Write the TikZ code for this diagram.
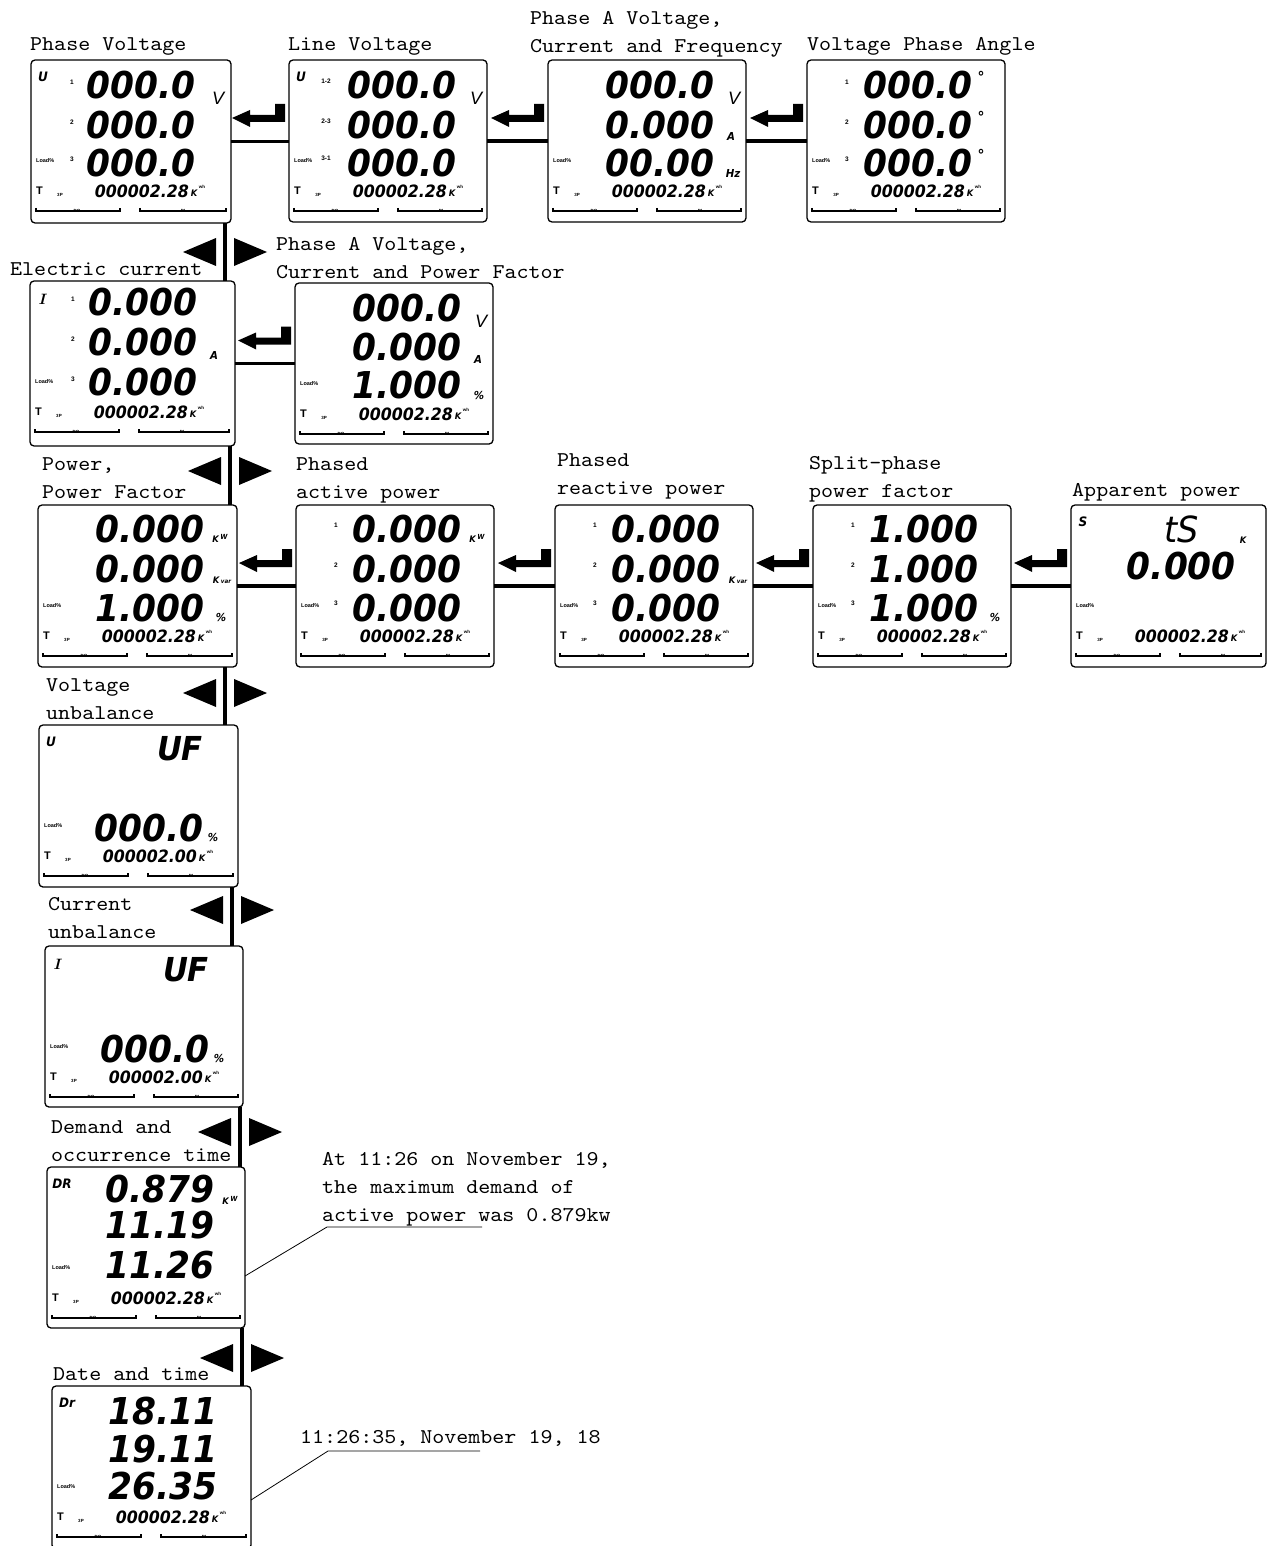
\documentclass[tikz,border=0pt]{standalone}
\usepackage{fontspec}
\newfontfamily\labfont[FakeStretch=1.09]{lmmono10-regular.otf}
\newfontfamily\lcdfont[FakeStretch=0.93]{DejaVu Sans}
\newfontfamily\sansb{Liberation Sans}
\tikzset{
  lcdpanel/.style={draw, line width=1.3pt, rounded corners=4pt, fill=white, inner sep=0pt, outer sep=0pt, anchor=north west},
  bigdig/.style={inner sep=0pt, anchor=east, font=\lcdfont\bfseries\itshape\fontsize{37}{37}\selectfont},
  kwhdig/.style={inner sep=0pt, anchor=east, font=\lcdfont\bfseries\itshape\fontsize{17}{17}\selectfont},
  tinytxt/.style={inner sep=0pt, font=\sansb\bfseries\fontsize{5.5}{6}\selectfont},
  micro/.style={inner sep=0pt, font=\sansb\bfseries\fontsize{4.5}{5}\selectfont},
  rnum/.style={inner sep=0pt, font=\sansb\bfseries\fontsize{6.5}{7}\selectfont},
  ttxt/.style={inner sep=0pt, anchor=west, font=\sansb\bfseries\fontsize{11}{11}\selectfont},
  sidelab/.style={inner sep=0pt, font=\lcdfont\bfseries\itshape\fontsize{13}{13}\selectfont},
  unitv/.style={inner sep=0pt, font=\sansb\itshape\fontsize{18}{18}\selectfont},
  unitsm/.style={inner sep=0pt, font=\lcdfont\bfseries\itshape\fontsize{11}{11}\selectfont},
  degsym/.style={inner sep=0pt, font=\lcdfont\bfseries\fontsize{15}{15}\selectfont},
  unitk/.style={inner sep=0pt, font=\lcdfont\bfseries\itshape\fontsize{9}{9}\selectfont},
  lcdbar/.style={line width=1.1pt},
  lbl/.style={inner sep=0pt, anchor=base west, align=left, font=\labfont\fontsize{21}{28}\selectfont},
  hconn/.style={line width=3.6pt},
  vconn/.style={line width=4.6pt},
  leader/.style={line width=0.8pt}
}
\newcommand\lcdbox[7]{% name, x, y, w, h, kwh value, right bar end
  \node[lcdpanel, minimum width=#4pt, minimum height=#5pt] (#1) at (#2,#3) {};
  \begin{scope}[shift={(#2,#3)}]
    \node[tinytxt, anchor=west] (#1-ld) at (5,101) {Load\%};
    \node[ttxt] (#1-t) at (5,131) {T};
    \node[micro] (#1-3p) at (29,135) {3P};
    \node[kwhdig] (#1-kwh) at (158,131) {#6};
    \node[unitk] (#1-k) at (163,133) {K};
    \node[micro] (#1-wh) at (171,127) {wh};
    \draw[lcdbar] (5,148) -- (5,151) -- (89,151) -- (89,148);
    \node[micro] (#1-do) at (46,151) {DO};
    \draw[lcdbar] (109,148) -- (109,151) -- (#7,151) -- (#7,148);
    \node[micro] (#1-di) at (152,151) {DI};
  \end{scope}}
\newcommand\retarrow[1]{\fill[shift={(#1)}] (-57,-23) -- (-39,-31) -- (-39,-26) -- (-14,-26) -- (-14,-37) -- (-4,-37) -- (-4,-19) -- (-39,-19) -- (-39,-14) -- cycle;}
\newcommand\tripair[2]{%
  \fill (#1-42,#2) -- (#1-9,#2-14) -- (#1-9,#2+14) -- cycle;
  \fill (#1+9,#2-14) -- (#1+9,#2+14) -- (#1+42,#2) -- cycle;}
\begin{document}
\begin{tikzpicture}[x=1pt,y=-1pt]
\useasboundingbox (0,0) rectangle (1267,1546);
\fill[white] (0,0) rectangle (1267,1546);

% ---------- panels ----------
\lcdbox{p1}{31}{60}{200}{163}{000002.28}{195}
\begin{scope}[shift={(31,60)}]
  \node[sidelab] (p1-s) at (12,17) {U};
  \node[rnum] (p1-n1) at (41,22) {1};
  \node[rnum] (p1-n2) at (41,62) {2};
  \node[rnum] (p1-n3) at (41,99) {3};
  \node[bigdig] (p1-r1) at (165,25) {000.0};
  \node[bigdig] (p1-r2) at (165,65) {000.0};
  \node[bigdig] (p1-r3) at (165,103) {000.0};
  \node[unitv] (p1-u) at (187,38) {V};
\end{scope}

\lcdbox{p2}{289}{60}{198}{162}{000002.28}{193}
\begin{scope}[shift={(289,60)}]
  \node[sidelab] (p2-s) at (12,17) {U};
  \node[rnum] (p2-n1) at (37,21) {1-2};
  \node[rnum] (p2-n2) at (37,61) {2-3};
  \node[rnum] (p2-n3) at (37,98) {3-1};
  \node[bigdig] (p2-r1) at (168,25) {000.0};
  \node[bigdig] (p2-r2) at (168,65) {000.0};
  \node[bigdig] (p2-r3) at (168,103) {000.0};
  \node[unitv] (p2-u) at (187,38) {V};
\end{scope}

\lcdbox{p3}{548}{60}{198}{162}{000002.28}{193}
\begin{scope}[shift={(548,60)}]
  \node[bigdig] (p3-r1) at (167,25) {000.0};
  \node[bigdig] (p3-r2) at (167,65) {0.000};
  \node[bigdig] (p3-r3) at (167,103) {00.00};
  \node[unitv] (p3-u1) at (186,38) {V};
  \node[unitsm] (p3-u2) at (183,76) {A};
  \node[unitsm] (p3-u3) at (185,113) {Hz};
\end{scope}

\lcdbox{p4}{807}{60}{198}{162}{000002.28}{193}
\begin{scope}[shift={(807,60)}]
  \node[rnum] (p4-n1) at (40,22) {1};
  \node[rnum] (p4-n2) at (40,62) {2};
  \node[rnum] (p4-n3) at (40,99) {3};
  \node[bigdig] (p4-r1) at (166,25) {000.0};
  \node[bigdig] (p4-r2) at (166,65) {000.0};
  \node[bigdig] (p4-r3) at (166,103) {000.0};
  \node[degsym] (p4-d1) at (174,17) {°};
  \node[degsym] (p4-d2) at (174,57) {°};
  \node[degsym] (p4-d3) at (174,95) {°};
\end{scope}

\lcdbox{p5}{30}{281}{205}{165}{000002.28}{199}
\begin{scope}[shift={(30,281)}]
  \node[inner sep=0pt, font=\rmfamily\bfseries\itshape\fontsize{15}{15}\selectfont] (p5-s) at (12,18) {I};
  \node[rnum] (p5-n1) at (43,18) {1};
  \node[rnum] (p5-n2) at (43,58) {2};
  \node[rnum] (p5-n3) at (43,98) {3};
  \node[bigdig] (p5-r1) at (168,21) {0.000};
  \node[bigdig] (p5-r2) at (168,61) {0.000};
  \node[bigdig] (p5-r3) at (168,101) {0.000};
  \node[unitsm] (p5-u) at (184,74) {A};
\end{scope}

\lcdbox{p6}{295}{283}{198}{161}{000002.28}{193}
\begin{scope}[shift={(295,283)}]
  \node[bigdig] (p6-r1) at (167,25) {000.0};
  \node[bigdig] (p6-r2) at (167,64) {0.000};
  \node[bigdig] (p6-r3) at (167,102) {1.000};
  \node[unitv] (p6-u1) at (186,38) {V};
  \node[unitsm] (p6-u2) at (183,76) {A};
  \node[unitsm] (p6-u3) at (184,112) {\%};
\end{scope}

\lcdbox{p7}{38}{505}{199}{162}{000002.28}{194}
\begin{scope}[shift={(38,505)}]
  \node[bigdig] (p7-r1) at (167,24) {0.000};
  \node[bigdig] (p7-r2) at (167,64) {0.000};
  \node[bigdig] (p7-r3) at (167,103) {1.000};
  \node[unitk] (p7-u1) at (182,33) {K\,\raisebox{3pt}{\fontsize{7}{7}\selectfont W}};
  \node[unitk] (p7-u2) at (184,75) {K\,{\fontsize{6}{6}\selectfont var}};
  \node[unitsm] (p7-u3) at (183,112) {\%};
\end{scope}

\lcdbox{p8}{296}{505}{198}{162}{000002.28}{193}
\begin{scope}[shift={(296,505)}]
  \node[rnum] (p8-n1) at (40,20) {1};
  \node[rnum] (p8-n2) at (40,60) {2};
  \node[rnum] (p8-n3) at (40,98) {3};
  \node[bigdig] (p8-r1) at (166,24) {0.000};
  \node[bigdig] (p8-r2) at (166,64) {0.000};
  \node[bigdig] (p8-r3) at (166,103) {0.000};
  \node[unitk] (p8-u1) at (181,33) {K\,\raisebox{3pt}{\fontsize{7}{7}\selectfont W}};
\end{scope}

\lcdbox{p9}{555}{505}{198}{162}{000002.28}{193}
\begin{scope}[shift={(555,505)}]
  \node[rnum] (p9-n1) at (40,20) {1};
  \node[rnum] (p9-n2) at (40,60) {2};
  \node[rnum] (p9-n3) at (40,98) {3};
  \node[bigdig] (p9-r1) at (166,24) {0.000};
  \node[bigdig] (p9-r2) at (166,64) {0.000};
  \node[bigdig] (p9-r3) at (166,103) {0.000};
  \node[unitk] (p9-u1) at (183,75) {K\,{\fontsize{6}{6}\selectfont var}};
\end{scope}

\lcdbox{p10}{813}{505}{198}{162}{000002.28}{193}
\begin{scope}[shift={(813,505)}]
  \node[rnum] (p10-n1) at (40,20) {1};
  \node[rnum] (p10-n2) at (40,60) {2};
  \node[rnum] (p10-n3) at (40,98) {3};
  \node[bigdig] (p10-r1) at (166,24) {1.000};
  \node[bigdig] (p10-r2) at (166,64) {1.000};
  \node[bigdig] (p10-r3) at (166,103) {1.000};
  \node[unitsm] (p10-u3) at (182,112) {\%};
\end{scope}

\lcdbox{p11}{1071}{505}{195}{162}{000002.28}{190}
\begin{scope}[shift={(1071,505)}]
  \node[sidelab] (p11-s) at (12,17) {S};
  \node[inner sep=0pt, font=\lcdfont\itshape\fontsize{36}{36}\selectfont] (p11-ts) at (111,24) {tS};
  \node[unitk] (p11-k) at (172,35) {K};
  \node[bigdig] (p11-r2) at (165,61) {0.000};
\end{scope}

\lcdbox{p12}{39}{725}{199}{162}{000002.00}{194}
\begin{scope}[shift={(39,725)}]
  \node[sidelab] (p12-s) at (12,17) {U};
  \node[inner sep=0pt, font=\lcdfont\bfseries\itshape\fontsize{33}{33}\selectfont] (p12-uf) at (141,24) {UF};
  \node[bigdig] (p12-r3) at (165,103) {000.0};
  \node[unitsm] (p12-u) at (174,112) {\%};
\end{scope}

\lcdbox{p13}{45}{946}{198}{161}{000002.00}{193}
\begin{scope}[shift={(45,946)}]
  \node[inner sep=0pt, font=\rmfamily\bfseries\itshape\fontsize{15}{15}\selectfont] (p13-s) at (12,18) {I};
  \node[inner sep=0pt, font=\lcdfont\bfseries\itshape\fontsize{33}{33}\selectfont] (p13-uf) at (141,24) {UF};
  \node[bigdig] (p13-r3) at (165,103) {000.0};
  \node[unitsm] (p13-u) at (174,112) {\%};
\end{scope}

\lcdbox{p14}{47}{1167}{198}{161}{000002.28}{193}
\begin{scope}[shift={(47,1167)}]
  \node[sidelab] (p14-s) at (15,17) {DR};
  \node[bigdig] (p14-r1) at (168,22) {0.879};
  \node[bigdig] (p14-r2) at (168,58) {11.19};
  \node[bigdig] (p14-r3) at (168,98) {11.26};
  \node[unitk] (p14-u1) at (183,33) {K\,\raisebox{3pt}{\fontsize{7}{7}\selectfont W}};
\end{scope}

\lcdbox{p15}{52}{1386}{199}{163}{000002.28}{194}
\begin{scope}[shift={(52,1386)}]
  \node[sidelab] (p15-s) at (15,17) {Dr};
  \node[bigdig] (p15-r1) at (166,25) {18.11};
  \node[bigdig] (p15-r2) at (166,63) {19.11};
  \node[bigdig] (p15-r3) at (166,100) {26.35};
\end{scope}

% ---------- horizontal connectors ----------
\draw[hconn] (p1.east) -- (p1.east -| p2.west);
\draw[hconn] (p2.east) -- (p2.east -| p3.west);
\draw[hconn] (p3.east) -- (p3.east -| p4.west);
\draw[hconn] (p5.east) -- (p5.east -| p6.west);
\draw[hconn] (p7.east) -- (p7.east -| p8.west);
\draw[hconn] (p8.east) -- (p8.east -| p9.west);
\draw[hconn] (p9.east) -- (p9.east -| p10.west);
\draw[hconn] (p10.east) -- (p10.east -| p11.west);
\retarrow{p2.west}
\retarrow{p3.west}
\retarrow{p4.west}
\retarrow{p6.west}
\retarrow{p8.west}
\retarrow{p9.west}
\retarrow{p10.west}
\retarrow{p11.west}

% ---------- vertical connectors ----------
\draw[vconn] (p1.south -| 225,0) -- (p5.north -| 225,0);
\draw[vconn] (p5.south -| 230,0) -- (p7.north -| 230,0);
\draw[vconn] (p7.south -| 225,0) -- (p12.north -| 225,0);
\draw[vconn] (p12.south -| 232,0) -- (p13.north -| 232,0);
\draw[vconn] (p13.south -| 240,0) -- (p14.north -| 240,0);
\draw[vconn] (p14.south -| 242,0) -- (p15.north -| 242,0);
\tripair{225}{252}
\tripair{230}{471}
\tripair{225}{693}
\tripair{232}{910}
\tripair{240}{1132}
\tripair{242}{1358}

% ---------- labels (base = baseline of last line) ----------
\node[lbl] (l1) at (30,51) {Phase Voltage};
\node[lbl] (l2) at (288,51) {Line Voltage};
\node[lbl] (l3) at (530,53) {Phase A Voltage,\\Current and Frequency};
\node[lbl] (l4) at (807,51) {Voltage Phase Angle};
\node[lbl] (l5) at (10,276) {Electric current};
\node[lbl] (l6) at (276,278) {Phase A Voltage,\\Current and Power Factor};
\node[lbl] (l7) at (42,498) {Power,\\Power Factor};
\node[lbl] (l8) at (296,498) {Phased\\active power};
\node[lbl] (l9) at (557,494) {Phased\\reactive power};
\node[lbl] (l10) at (809,497) {Split-phase\\power factor};
\node[lbl] (l11) at (1072,496) {Apparent power};
\node[lbl] (l12) at (46,719) {Voltage\\unbalance};
\node[lbl] (l13) at (48,938) {Current\\unbalance};
\node[lbl] (l14) at (51,1161) {Demand and\\occurrence time};
\node[lbl] (l15) at (53,1380) {Date and time};
\node[lbl] (n1) at (322,1221) {At 11:26 on November 19,\\the maximum demand of\\active power was 0.879kw};
\node[lbl] (n2) at (300,1443) {11:26:35, November 19, 18};

% ---------- leaders ----------
\coordinate (n1a) at (482,1227);
\coordinate (n1b) at (327,1227);
\draw[leader] (n1a) -- (n1b) -- (p14.east |- 0,1276);
\coordinate (n2a) at (480,1451);
\coordinate (n2b) at (328,1451);
\draw[leader] (n2a) -- (n2b) -- (p15.east |- 0,1500);
\end{tikzpicture}
\end{document}
